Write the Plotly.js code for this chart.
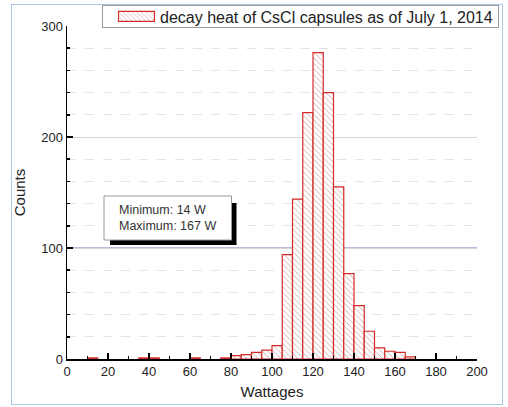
<!DOCTYPE html>
<html>
<head>
<meta charset="utf-8">
<script src="https://cdn.plot.ly/plotly-3.0.1.min.js"></script>
<style>
html,body{margin:0;padding:0;background:#fff;}
#frame{position:absolute;left:11px;top:4px;width:492px;height:401px;border:1px solid #a9c9ea;box-sizing:border-box;pointer-events:none;z-index:5;}
#chart{position:absolute;left:0;top:0;width:508px;height:407px;}
</style>
</head>
<body>
<div id="chart"></div>
<div id="frame"></div>
<script>
// Histogram bins (left edge, W) and counts
const binLeft = [10, 35, 40, 60, 75, 80, 85, 90, 95, 100, 105, 110, 115, 120, 125, 130, 135, 140, 145, 150, 155, 160, 165];
const counts  = [1, 1, 1, 1, 1, 3, 4, 6, 8, 12, 94, 144, 222, 276, 240, 155, 77, 48, 25, 10, 7, 6, 2];
const binWidth = 5;
const seriesName = 'decay heat of CsCl capsules as of July 1, 2014';
const statsText = ['Minimum: 14 W', 'Maximum: 167 W'];
const xTitle = 'Wattages';
const yTitle = 'Counts';

const trace = {
  type: 'bar',
  x: binLeft,
  y: counts,
  width: binWidth,
  offset: 0,
  name: seriesName,
  showlegend: true,
  marker: {
    color: '#ffffff',
    line: {color: '#d42a2a', width: 1.2},
    pattern: {shape: '\\', fgcolor: '#d4a6a6', bgcolor: '#ffffff', size: 4, solidity: 0.22}
  },
  hoverinfo: 'skip'
};

const px = v => (v - 67) / 410;
const py = v => (359 - v) / 333;

const layout = {
  width: 508, height: 407,
  margin: {l: 67, r: 31, t: 26, b: 48, autoexpand: false},
  paper_bgcolor: '#ffffff',
  plot_bgcolor: '#ffffff',
  font: {family: 'Liberation Sans, Arial, sans-serif', color: '#222'},
  bargap: 0,
  xaxis: {
    range: [0, 200], dtick: 20, tick0: 0,
    showline: true, linecolor: '#000', linewidth: 1.5,
    ticks: 'inside', ticklen: 6, tickcolor: '#000', tickwidth: 1.5,
    showgrid: false, zeroline: false,
    tickfont: {size: 13, color: '#222'},
    minor: {dtick: 10, ticks: 'inside', ticklen: 3, tickcolor: '#000', showgrid: false},
    title: {text: xTitle, font: {size: 15, color: '#222'}, standoff: 8}
  },
  yaxis: {
    range: [0, 300], dtick: 100, tick0: 0,
    showline: true, linecolor: '#000', linewidth: 1.5,
    ticks: 'inside', ticklen: 6, tickcolor: '#000', tickwidth: 1.5,
    showgrid: true, gridcolor: '#d6d6d6', gridwidth: 1,
    zeroline: false,
    tickfont: {size: 13, color: '#222'},
    minor: {dtick: 20, ticks: 'inside', ticklen: 3, tickcolor: '#000', showgrid: true, gridcolor: '#e4e4e4', griddash: 'dash', gridwidth: 1},
    title: {text: yTitle, font: {size: 15, color: '#222'}, standoff: 12}
  },
  legend: {
    x: px(102), y: py(-1.5), xanchor: 'left', yanchor: 'top',
    bgcolor: '#ffffff', bordercolor: '#9a9a9a', borderwidth: 1,
    font: {size: 16, color: '#222'},
    itemwidth: 47
  },
  shapes: [
    {type: 'line', xref: 'paper', x0: 0, x1: 1, yref: 'y', y0: 100, y1: 100, line: {color: '#7474c4', width: 1.2}, layer: 'between'},
    {type: 'rect', xref: 'paper', yref: 'paper', x0: px(110), x1: px(236.5), y0: py(245), y1: py(203), fillcolor: '#000', line: {width: 0}},
    {type: 'rect', xref: 'paper', yref: 'paper', x0: px(104), x1: px(231.5), y0: py(240), y1: py(196), fillcolor: '#fff', line: {color: '#9a9a9a', width: 1}}
  ],
  annotations: [
    {xref: 'paper', yref: 'paper', x: px(117), y: py(218), xanchor: 'left', yanchor: 'middle', align: 'left', showarrow: false,
     text: statsText.join('<br>'), font: {size: 12.5, color: '#333'}}
  ]
};

Plotly.newPlot('chart', [trace], layout, {displayModeBar: false, staticPlot: true}).then(gd => {
  // widen the legend swatch to a rectangle like the original
  gd.querySelectorAll('.legend .legendpoints path').forEach(p => { p.setAttribute('d', 'M18,5H-18V-5H18Z'); });
  gd.querySelectorAll('.legend .legendpoints').forEach(g => { g.setAttribute('transform', 'translate(5,0)'); });
  // make the legend frame as slim as in the original
  const bg = gd.querySelector('.legend rect.bg');
  if (bg) {
    const h = parseFloat(bg.getAttribute('height'));
    const y = parseFloat(bg.getAttribute('y') || 0);
    const nh = 22;
    bg.setAttribute('y', y + (h - nh) / 2);
    bg.setAttribute('height', nh);
  }
});
</script>
</body>
</html>
